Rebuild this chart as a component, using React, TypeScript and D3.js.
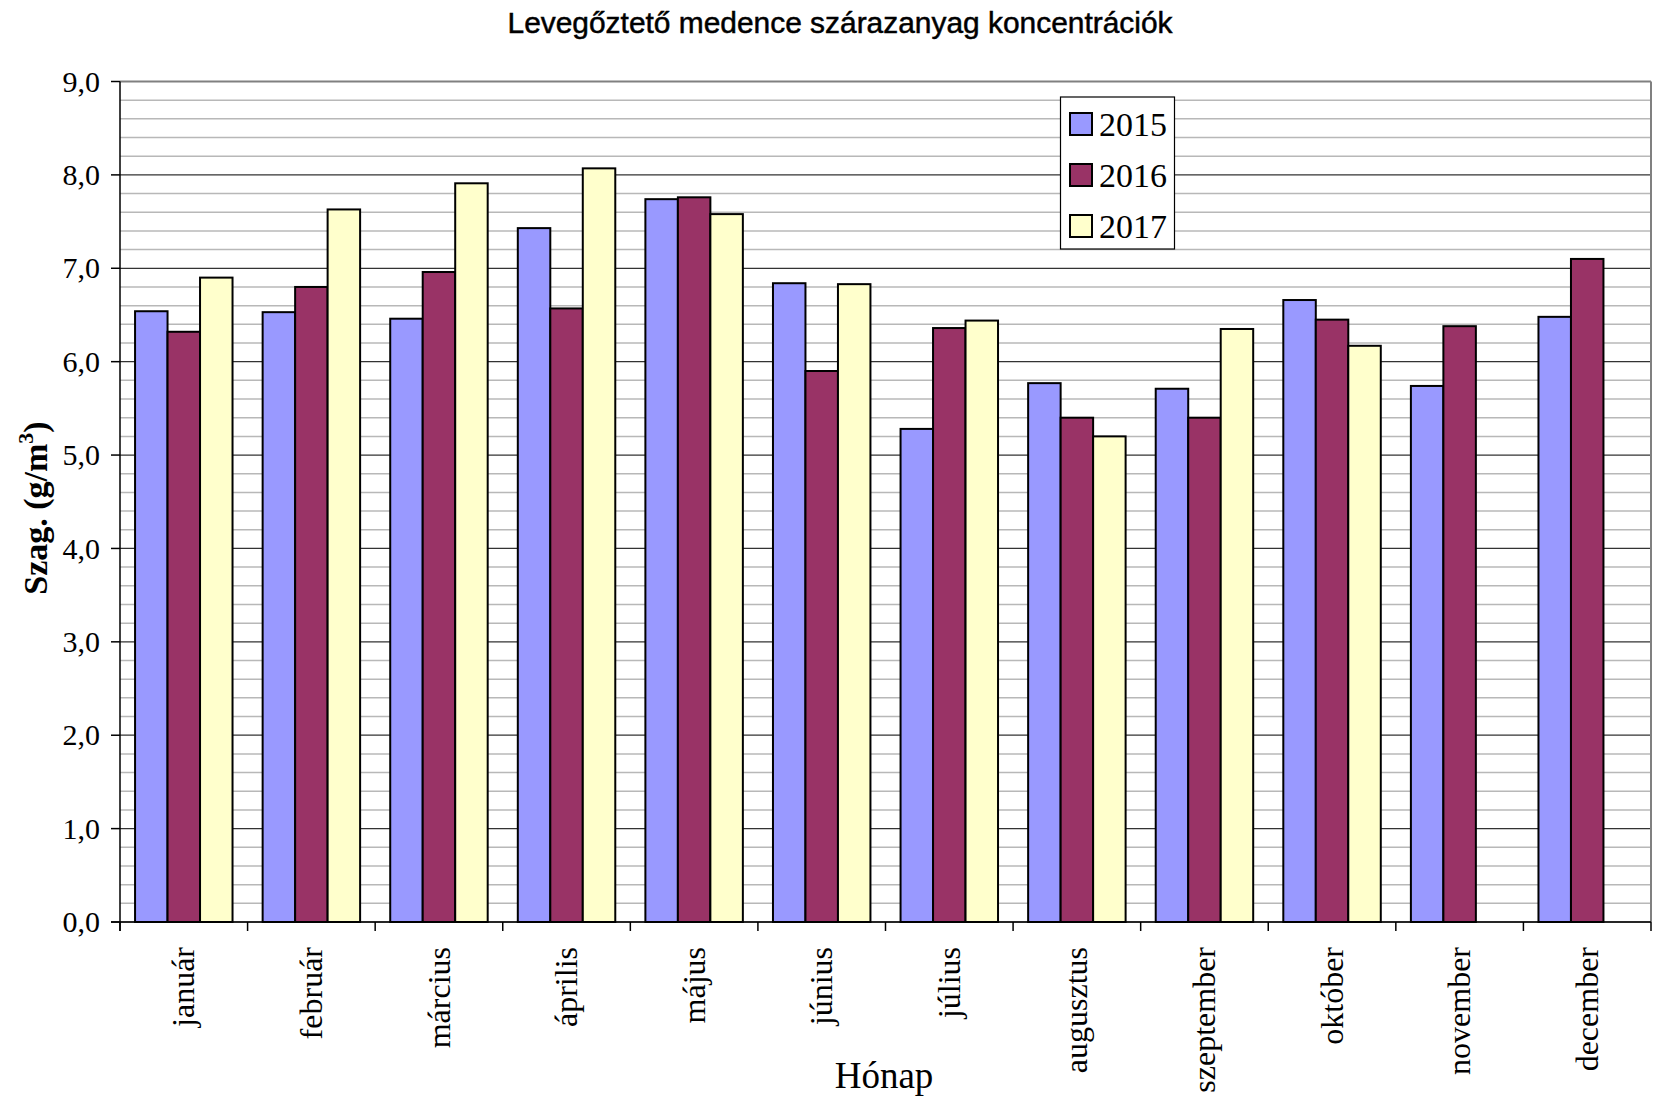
import React from "react";
import * as d3 from "d3";

const months = ["január", "február", "március", "április", "május", "június", "július", "augusztus", "szeptember", "október", "november", "december"];
const seriesNames = ["2015", "2016", "2017"];
const values2015 = [6.54, 6.53, 6.46, 7.43, 7.74, 6.84, 5.28, 5.77, 5.71, 6.66, 5.74, 6.48];
const values2016 = [6.32, 6.80, 6.96, 6.57, 7.76, 5.90, 6.36, 5.40, 5.40, 6.45, 6.38, 7.10];
const values2017: (number | null)[] = [6.90, 7.63, 7.91, 8.07, 7.58, 6.83, 6.44, 5.20, 6.35, 6.17, null, null];
const colors = ["#9999FF", "#993366", "#FFFFCC"];
const yTicks = [0, 1, 2, 3, 4, 5, 6, 7, 8, 9];

const W = 1656, H = 1097;
const left = 120, right = 1651, top = 81.5, bottom = 922;
const SERIF = "Liberation Serif";
const SANS = "Liberation Sans";

export default function App() {
  const data = [values2015, values2016, values2017];
  const x0 = d3.scaleBand<string>().domain(months).range([left, right]).padding(0);
  const bw = x0.bandwidth();
  const groupW = bw * 0.764;
  const x1 = d3.scaleBand<string>().domain(seriesNames).range([(bw - groupW) / 2, (bw + groupW) / 2]).padding(0);
  const y = d3.scaleLinear().domain([0, 9]).range([bottom, top]);
  const minor = d3.range(0, 45).map((i) => i * 0.2).filter((v) => Math.abs(v - Math.round(v)) > 0.01);
  const fmt = (v: number) => d3.format(".1f")(v).replace(".", ",");
  return (
    <svg width={W} height={H} style={{ position: "absolute", left: 0, top: 0, background: "#fff" }}>
      <rect x={0} y={0} width={W} height={H} fill="#fff" />
      <text x={840} y={33} textAnchor="middle" style={{ fontFamily: SANS }} fontSize={30} textLength={665} lengthAdjust="spacingAndGlyphs" fill="#000" stroke="#000" strokeWidth={0.5}>Levegőztető medence szárazanyag koncentrációk</text>
      {minor.map((v) => (
        <line key={"m" + v} x1={left} x2={right} y1={y(v)} y2={y(v)} stroke="#b8b8b8" strokeWidth={1.5} />
      ))}
      {yTicks.map((v) => (
        <line key={"g" + v} x1={left} x2={right} y1={y(v)} y2={y(v)} stroke={v === 9 ? "#808080" : "#333"} strokeWidth={v === 9 ? 2 : 1.2} />
      ))}
      <line x1={right} x2={right} y1={top} y2={bottom} stroke="#808080" strokeWidth={2} />
      {months.map((m, i) => (
        <g key={m} transform={`translate(${x0(m)},0)`}>
          {seriesNames.map((s, j) => {
            const v = data[j][i];
            if (v == null) return null;
            return (
              <rect key={s} x={x1(s)!} y={y(v)} width={x1.bandwidth()} height={y(0) - y(v)} fill={colors[j]} stroke="#000" strokeWidth={2} />
            );
          })}
        </g>
      ))}
      <line x1={left} x2={left} y1={top} y2={bottom + 9} stroke="#000" strokeWidth={1.5} />
      <line x1={left - 9} x2={right} y1={bottom} y2={bottom} stroke="#000" strokeWidth={1.5} />
      {yTicks.map((v) => (
        <g key={"t" + v}>
          <line x1={left - 9} x2={left} y1={y(v)} y2={y(v)} stroke="#000" strokeWidth={1.5} />
          <text x={left - 20} y={y(v)} dy="0.34em" textAnchor="end" style={{ fontFamily: SERIF }} fontSize={30} fill="#000">{fmt(v)}</text>
        </g>
      ))}
      {[...months, "end"].map((m, i) => {
        const xx = left + i * bw;
        return <line key={"xt" + i} x1={xx} x2={xx} y1={bottom} y2={bottom + 9} stroke="#000" strokeWidth={1.5} />;
      })}
      {months.map((m) => {
        const cx = x0(m)! + bw / 2;
        return (
          <text key={"xl" + m} transform={`translate(${cx},947) rotate(-90)`} dy="0.33em" textAnchor="end" style={{ fontFamily: SERIF }} fontSize={32} fill="#000">{m}</text>
        );
      })}
      <text x={884} y={1088} textAnchor="middle" style={{ fontFamily: SERIF }} fontSize={37} fill="#000">Hónap</text>
      <text transform="translate(47,508) rotate(-90)" textAnchor="middle" style={{ fontFamily: SERIF }} fontSize={34} fontWeight="bold" fill="#000">
        Szag. (g/m<tspan fontSize={22} dy={-14}>3</tspan><tspan dy={14}>)</tspan>
      </text>
      <rect x={1060.5} y={97} width={114} height={152} fill="#fff" stroke="#000" strokeWidth={1.2} />
      {seriesNames.map((s, j) => {
        const cy = 124 + j * 51;
        return (
          <g key={"lg" + s}>
            <rect x={1070} y={cy - 11} width={22} height={22} fill={colors[j]} stroke="#000" strokeWidth={2} />
            <text x={1099} y={cy} dy="0.36em" style={{ fontFamily: SERIF }} fontSize={34} fill="#000">{s}</text>
          </g>
        );
      })}
    </svg>
  );
}
